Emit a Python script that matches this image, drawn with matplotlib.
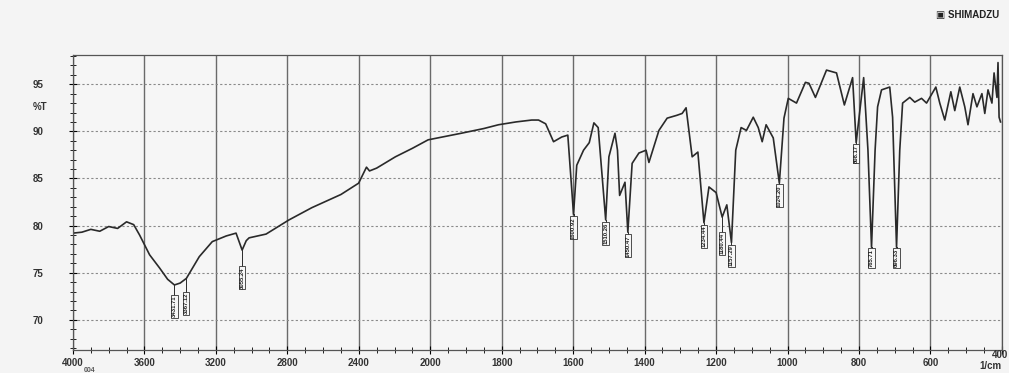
import numpy as np
import matplotlib
matplotlib.use('Agg')
import matplotlib.pyplot as plt
from matplotlib.ticker import FixedLocator, FixedFormatter

# spectrum (wavenumber 1/cm, %T)
wn = [4000, 3950, 3900, 3850, 3800, 3750, 3700, 3660, 3627, 3571, 3515, 3470,
      3432, 3400, 3365, 3293, 3220, 3142, 3087, 3053, 3030, 3014, 2919, 2791,
      2663, 2500, 2401, 2357, 2340, 2300, 2195, 2100, 2012, 1913, 1850, 1809,
      1760, 1716, 1697, 1677, 1655, 1632, 1615, 1599, 1590, 1571, 1555, 1542,
      1530, 1509, 1500, 1483, 1476, 1470, 1455, 1447, 1435, 1416, 1396, 1388,
      1360, 1337, 1310, 1295, 1284, 1267, 1251, 1234, 1220, 1200, 1183, 1170,
      1157, 1145, 1130, 1115, 1096, 1082, 1071, 1060, 1040, 1023, 1010, 998,
      975, 950, 940, 922, 891, 863, 841, 818, 808, 787, 775, 765, 755, 748,
      737, 714, 706, 695, 686, 678, 658, 644, 625, 611, 585, 574, 560, 543,
      532, 518, 504, 495, 481, 470, 456, 448, 439, 428, 422, 414, 411, 408, 404]
trans = [79.2, 79.3, 79.6, 79.4, 79.9, 79.7, 80.4, 80.1, 79.0, 76.9, 75.5, 74.3,
         73.7, 73.9, 74.4, 76.7, 78.3, 78.9, 79.2, 77.4, 78.4, 78.7, 79.1, 80.6,
         81.9, 83.3, 84.5, 86.2, 85.8, 86.1, 87.3, 88.2, 89.1, 89.8, 90.3, 90.7,
         91.0, 91.2, 91.2, 90.8, 88.9, 89.4, 89.6, 81.2, 86.4, 88.0, 88.8, 90.9,
         90.4, 80.6, 87.3, 89.8, 88.0, 83.2, 84.6, 79.3, 86.6, 87.7, 88.0, 86.7,
         90.1, 91.4, 91.7, 91.9, 92.5, 87.3, 87.8, 80.3, 84.1, 83.5, 80.9, 82.2,
         78.2, 88.0, 90.4, 90.1, 91.5, 90.4, 88.9, 90.7, 89.3, 84.5, 91.4, 93.5,
         93.0, 95.2, 95.1, 93.6, 96.5, 96.2, 92.8, 95.7, 88.8, 95.7, 88.0, 77.7, 88.0, 92.6,
         94.4, 94.7, 91.5, 77.7, 88.0, 93.0, 93.6, 93.1, 93.5, 93.0, 94.7, 93.0, 91.2, 94.2,
         92.2, 94.7, 92.6, 90.7, 94.0, 92.6, 94.0, 91.9, 94.4, 93.0, 96.2, 93.6, 97.3, 91.5, 91.0]

# peak labels
peak_wn = [3432, 3367, 3053, 1599, 1509, 1447, 1234, 1183, 1157, 1023, 808, 765, 695]
peak_txt = ['3431.71', '3367.12', '3055.24', '1600.92', '1510.26', '1450.47',
            '1234.44', '1180.44', '1157.29', '1024.20', '808.17', '765.71', '696.33']
label_top = [72.6, 72.9, 75.6, 80.9, 80.3, 79.0, 80.0, 79.2, 77.9, 84.3, 88.6, 77.5, 77.5]

xticks = [4000, 3600, 3200, 2800, 2400, 2000, 1800, 1600, 1400, 1200, 1000, 800, 600, 400]
yticks = [70, 75, 80, 85, 90, 95]


def fwd(w):
    w = np.asarray(w, dtype=float)
    return np.where(w > 2000, 2000 + (w - 2000) / 2, w)


def inv(u):
    u = np.asarray(u, dtype=float)
    return np.where(u > 2000, 2000 + (u - 2000) * 2, u)


plt.rcParams['font.family'] = ['Liberation Sans', 'DejaVu Sans']

fig = plt.figure(figsize=(10.09, 3.73), dpi=100, facecolor='#f4f4f4')
ax = fig.add_axes([0.0723, 0.0617, 0.9207, 0.7908])
ax.set_facecolor('#f6f6f6')
ax.set_xscale('function', functions=(fwd, inv))
ax.set_xlim(4000, 400)
ax.set_ylim(66.8, 98.1)

ax.plot(wn, trans, color='#2a2a2a', lw=1.2)

for w, t, top in zip(peak_wn, peak_txt, label_top):
    tmin = np.interp(w, wn[::-1], trans[::-1])
    ax.plot([w, w], [tmin, top], color='#2a2a2a', lw=0.7)
    ax.text(w, top, t, rotation=90, ha='center', va='top', fontsize=4.2,
            fontweight='bold', color='#222',
            bbox=dict(boxstyle='square,pad=0.12', fc='#f6f6f6', ec='#333', lw=0.6))

ax.xaxis.set_major_locator(FixedLocator(xticks))
# last label (400) is placed by hand, higher up at the right edge
ax.xaxis.set_major_formatter(FixedFormatter([str(v) for v in xticks[:-1]] + ['']))
minor_x = list(range(4000, 2000, -100)) + list(range(2000, 399, -50))
ax.xaxis.set_minor_locator(FixedLocator(minor_x))
ax.yaxis.set_major_locator(FixedLocator(yticks))
ax.yaxis.set_minor_locator(FixedLocator(list(range(67, 99))))

ax.tick_params(axis='x', which='major', direction='inout', length=6, labelsize=7, pad=3)
ax.tick_params(axis='x', which='minor', direction='inout', length=4)
ax.tick_params(axis='y', which='major', direction='inout', length=6, labelsize=7, pad=18)
ax.tick_params(axis='y', which='minor', direction='inout', length=4)
for lab in ax.get_xticklabels() + ax.get_yticklabels():
    lab.set_fontweight('bold')
    lab.set_color('#333')

ax.xaxis.grid(True, which='major', color='#6a6a6a', lw=1.0, ls='-')
ax.yaxis.grid(True, which='major', color='#8a8a8a', lw=0.8, ls=(0, (2, 2)))
for s in ax.spines.values():
    s.set_color('#555')
    s.set_linewidth(0.9)

fig.text(40 / 1009, 1 - 107 / 373, '%T', fontsize=7, fontweight='bold', color='#333',
         ha='center', va='center')
fig.text(1008 / 1009, 1 - 355 / 373, '400', fontsize=7, fontweight='bold', color='#333',
         ha='right', va='center')
fig.text(990 / 1009, 1 - 366 / 373, '1/cm', fontsize=7, fontweight='bold', color='#333',
         ha='center', va='center')
fig.text(90 / 1009, 1 - 370 / 373, '004', fontsize=5, fontweight='bold', color='#555',
         ha='center', va='center')
fig.text(968 / 1009, 1 - 15 / 373, '\u25a3 SHIMADZU', fontsize=7, fontweight='bold',
         color='#222', ha='center', va='center')

fig.savefig('out.png', dpi=100, facecolor=fig.get_facecolor())
